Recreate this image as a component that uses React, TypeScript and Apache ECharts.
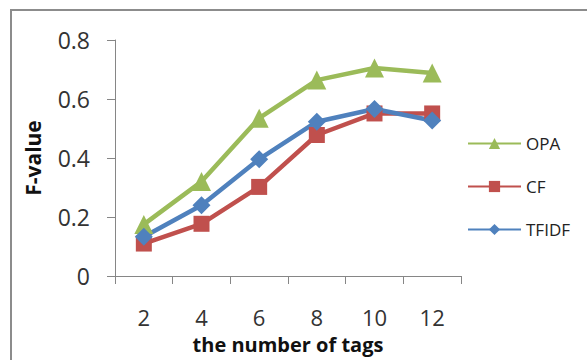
import React, { useEffect, useRef } from "react";
import * as echarts from "echarts";

const categories = ["2", "4", "6", "8", "10", "12"];
const opaValues = [0.175, 0.32, 0.535, 0.664, 0.705, 0.688];
const cfValues = [0.11, 0.177, 0.302, 0.478, 0.551, 0.551];
const tfidfValues = [0.133, 0.24, 0.396, 0.523, 0.566, 0.527];
const yTicks = [0, 0.2, 0.4, 0.6, 0.8];

const FONT = "'Open Sans', 'Noto Sans', sans-serif";

export default function App() {
  const ref = useRef<HTMLDivElement>(null);
  useEffect(() => {
    if (!ref.current) return;
    const chart = echarts.init(ref.current, null, { renderer: "svg" });
    const mk = (name: string, data: number[], color: string, symbol: string, size: number) => ({
      name,
      type: "line",
      data,
      symbol,
      symbolSize: size,
      lineStyle: { color, width: 4.5 },
      itemStyle: { color },
      z: 3,
    });
    chart.setOption({
      animation: false,
      backgroundColor: "#ffffff",
      textStyle: { fontFamily: FONT },
      grid: { left: 115, top: 40, right: 126, bottom: 84 },
      xAxis: {
        type: "category",
        data: categories,
        boundaryGap: true,
        axisLine: { lineStyle: { color: "#868686", width: 1 } },
        axisTick: { show: true, length: 8, inside: false, alignWithLabel: false, lineStyle: { color: "#868686" } },
        axisLabel: { margin: 30, fontSize: 22, color: "#333333", fontFamily: FONT },
        name: "the number of tags",
        nameLocation: "middle",
        nameGap: 58,
        nameTextStyle: { fontSize: 20, fontWeight: "bold", color: "#111111", fontFamily: FONT },
      },
      yAxis: {
        type: "value",
        min: 0,
        max: 0.8,
        interval: 0.2,
        splitLine: { show: false },
        axisLine: { show: true, lineStyle: { color: "#868686", width: 1 } },
        axisTick: { show: true, length: 8, lineStyle: { color: "#868686" } },
        axisLabel: {
          margin: 25,
          fontSize: 23,
          color: "#333333",
          fontFamily: FONT,
          formatter: (v: number) => {
            const t = yTicks.find((x) => Math.abs(x - v) < 1e-9);
            return t === 0 ? "0" : String(t !== undefined ? t : v);
          },
        },
        name: "F-value",
        nameLocation: "middle",
        nameGap: 72,
        nameRotate: 90,
        nameTextStyle: { fontSize: 21, fontWeight: "bold", color: "#111111", fontFamily: FONT },
      },
      legend: {
        orient: "vertical",
        left: 462,
        top: 130,
        itemWidth: 53,
        itemHeight: 14,
        itemGap: 26,
        textStyle: { fontSize: 17, color: "#222222", fontFamily: FONT },
        lineStyle: { width: 2 },
        data: ["OPA", "CF", "TFIDF"],
      },
      graphic: [
        {
          type: "polyline",
          shape: { points: [[11, 400], [11, 10], [600, 10]] },
          style: { stroke: "#8c8c8c", lineWidth: 2, fill: "none" },
          silent: true,
        },
      ],
      series: [
        mk("OPA", opaValues, "#9BBB59", "triangle", 19),
        mk("CF", cfValues, "#C0504D", "rect", 16),
        mk("TFIDF", tfidfValues, "#4F81BD", "diamond", 18),
      ],
    });
    return () => chart.dispose();
  }, []);
  return (
    <div
      ref={ref}
      style={{ position: "absolute", left: 0, top: 0, width: 587, height: 360 }}
    />
  );
}
